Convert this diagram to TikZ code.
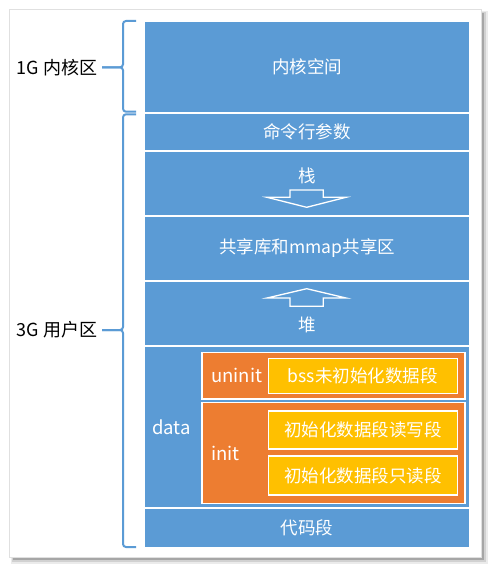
\documentclass[tikz,border=0pt]{standalone}
\usepackage{fontspec}
\newfontfamily\cjk{Noto Sans CJK SC}
\definecolor{bl}{HTML}{5B9BD5}
\definecolor{orn}{HTML}{ED7D31}
\definecolor{yel}{HTML}{FFC000}
\begin{document}
\begin{tikzpicture}[x=1pt,y=-1pt,
  txt/.style={font=\cjk\fontsize{17.5}{20}\selectfont},
  lat/.style={font=\cjk\fontsize{18.5}{20}\selectfont},
  blk/.style={fill=bl,draw=none,inner sep=0pt,anchor=north west,minimum width=324pt,text=white,txt},
  orbox/.style={fill=orn,draw=white,line width=1.5pt,inner sep=0pt,anchor=north west,minimum width=263pt},
  yebox/.style={fill=yel,draw=white,line width=1.5pt,inner sep=0pt,anchor=north west,minimum width=189pt,text=white,txt},
  wlbl/.style={text=white,txt,inner sep=0pt},
  side/.style={text=black,font=\cjk\fontsize{18}{20}\selectfont,inner sep=0pt,anchor=east},
  brace/.style={draw=bl,line width=2pt,rounded corners=3pt},
  arr/.style={draw=white,line width=1.3pt,line join=miter}]
\useasboundingbox (0,0) rectangle (491,569);
% page with shadow
\fill[black!8] (11,11) rectangle (488,564);
\fill[black!18] (12,12) rectangle (486,562);
\fill[black!35] (13,13) rectangle (484,560);
\fill[white,draw=black!12,line width=0.5pt] (9,9) rectangle (481,557);
% blocks
\node[blk,minimum height=89.5pt] (kern) at (145,22) {内核空间};
\node[blk,minimum height=35.5pt] (cmd) at (145,114) {命令行参数};
\node[blk,minimum height=63.5pt] (stack) at (145,151.5) {};
\node[blk,minimum height=63.5pt] (shared) at (145,216.5) {共享库和mmap共享区};
\node[blk,minimum height=63.5pt] (heap) at (145,281.5) {};
\node[blk,minimum height=159.5pt] (data) at (145,347) {};
\node[blk,minimum height=37.5pt] (code) at (145,509) {代码段};
\node[wlbl] (stacklbl) at (307,176) {栈};
\node[wlbl] (heaplbl) at (307,325) {堆};
\node[wlbl,lat] (datalbl) at (171.5,427.5) {data};
% arrows
\draw[arr] (290,190) -- (323.3,190) -- (323.3,197.3) -- (346,197.3) -- (306.7,207.3) -- (267,197.3) -- (290,197.3) -- cycle;
\draw[arr] (306.7,288.7) -- (346,298) -- (323.3,298) -- (323.3,306.3) -- (290,306.3) -- (290,298) -- (267,298) -- cycle;
% data segments
\node[orbox,minimum height=46.6pt] (uninit) at (201,351.7) {};
\node[orbox,minimum height=101pt] (init) at (201,401.7) {};
\node[wlbl,lat,anchor=west] (uninitlbl) at (211,375) {uninit};
\node[wlbl,lat,anchor=west] (initlbl) at (211,453) {init};
\node[yebox,minimum height=35pt] (bss) at (267.5,357.7) {bss未初始化数据段};
\node[yebox,minimum height=38.3pt] (rw) at (267.5,410) {初始化数据段读写段};
\node[yebox,minimum height=39.3pt] (ro) at (267.5,455) {初始化数据段只读段};
% side labels and braces
\node[side] (kzone) at (97.5,67.3) {1G 内核区};
\node[side] (uzone) at (97.5,330) {3G 用户区};
\draw[brace] (136,21) -- (123,21) -- (123,67.3) -- (102,67.3);
\draw[brace] (102,67.3) -- (123,67.3) -- (123,111.7) -- (136,111.7);
\draw[brace] (136,114.3) -- (123,114.3) -- (123,330) -- (102,330);
\draw[brace] (102,330) -- (123,330) -- (123,547) -- (136,547);
\end{tikzpicture}
\end{document}
